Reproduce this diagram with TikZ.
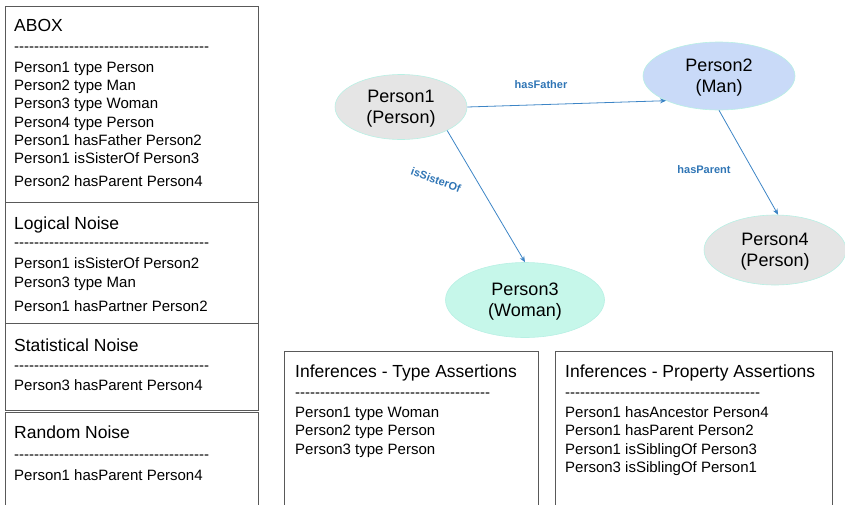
\documentclass[tikz,border=0pt]{standalone}
\usepackage{fontspec}
\setmainfont{Liberation Sans}[Ligatures=TeXOff]
\usetikzlibrary{
    arrows.meta,
    shapes.geometric
}

\definecolor{boxgray}{HTML}{595959}
\definecolor{rimcyan}{HTML}{B8F0E4}
\definecolor{persongray}{HTML}{E5E5E5}
\definecolor{manblue}{HTML}{C9DAF8}
\definecolor{womanmint}{HTML}{C6F7EA}
\definecolor{relblue}{HTML}{3D85C6}
\definecolor{labelblue}{HTML}{2F75B5}

\newcommand{\dashes}{\foreach \k in {1,...,39}{-}}

\begin{document}
\begin{tikzpicture}[x=1pt, y=-1pt,
    box/.style={draw=boxgray, line width=1pt},
    title/.style={anchor=base west, inner sep=0pt, font=\fontsize{17.5}{21}\selectfont},
    entry/.style={anchor=base west, inner sep=0pt, font=\fontsize{15}{18}\selectfont},
    person/.style={ellipse, draw=rimcyan, line width=0.6pt, align=center, inner sep=0pt,
        text depth=-1pt, font=\fontsize{18}{21}\selectfont},
    rel/.style={draw=relblue, line width=0.8pt, -{Stealth[length=6pt, width=5pt]}},
    rellabel/.style={text=labelblue, font=\bfseries\fontsize{11}{13}\selectfont}
]

\useasboundingbox (0,0) rectangle (845,504);
\clip (0,0) rectangle (845,504);

% Left column boxes
\draw[box] (5,6) rectangle (258,202);
\draw[box] (5,202) rectangle (258,323);
\draw[box] (5,323) rectangle (258,410);
\draw[box] (5,412) rectangle (258,510);

% ABOX
\node[title] (abox) at (14,31) {ABOX};
\node[entry] (aboxdash) at (14,51.5) {\dashes};
\node[entry] (abox1) at (14,72.4) {Person1 type Person};
\node[entry] (abox2) at (14,90.6) {Person2 type Man};
\node[entry] (abox3) at (14,108.8) {Person3 type Woman};
\node[entry] (abox4) at (14,127) {Person4 type Person};
\node[entry] (abox5) at (14,145.2) {Person1 hasFather Person2};
\node[entry] (abox6) at (14,163.4) {Person1 isSisterOf Person3};
\node[entry] (abox7) at (14,186.4) {Person2 hasParent Person4};

% Logical noise
\node[title] (logical) at (14,229) {Logical Noise};
\node[entry] (logicaldash) at (14,247.5) {\dashes};
\node[entry] (logical1) at (14,268.4) {Person1 isSisterOf Person2};
\node[entry] (logical2) at (14,287) {Person3 type Man};
\node[entry] (logical3) at (14,311) {Person1 hasPartner Person2};

% Statistical noise
\node[title] (statistical) at (14,351) {Statistical Noise};
\node[entry] (statisticaldash) at (14,370.5) {\dashes};
\node[entry] (statistical1) at (14,390.4) {Person3 hasParent Person4};

% Random noise
\node[title] (random) at (14,438) {Random Noise};
\node[entry] (randomdash) at (14,459.5) {\dashes};
\node[entry] (random1) at (14,480.4) {Person1 hasParent Person4};

% Inference boxes
\draw[box] (284,351) rectangle (538,510);
\draw[box] (555,351) rectangle (832,510);

\node[title] (types) at (295,377) {Inferences - Type Assertions};
\node[entry] (typesdash) at (295,397.5) {\dashes};
\node[entry] (types1) at (295,417.4) {Person1 type Woman};
\node[entry] (types2) at (295,435.9) {Person2 type Person};
\node[entry] (types3) at (295,454.4) {Person3 type Person};

\node[title] (props) at (565,377) {Inferences - Property Assertions};
\node[entry] (propsdash) at (565,397.5) {\dashes};
\node[entry] (props1) at (565,417.4) {Person1 hasAncestor Person4};
\node[entry] (props2) at (565,435.9) {Person1 hasParent Person2};
\node[entry] (props3) at (565,454.4) {Person1 isSiblingOf Person3};
\node[entry] (props4) at (565,472.9) {Person3 isSiblingOf Person1};

% Individuals
\node[person, fill=persongray, minimum width=132pt, minimum height=65pt] (p1) at (401,107) {Person1\\(Person)};
\node[person, fill=manblue, minimum width=152pt, minimum height=68pt] (p2) at (719,76) {Person2\\(Man)};
\node[person, fill=womanmint, minimum width=159pt, minimum height=75pt] (p3) at (525,300) {Person3\\(Woman)};
\node[person, fill=persongray, minimum width=142pt, minimum height=70pt] (p4) at (775,250) {Person4\\(Person)};

% Relations
\draw[rel] (p1.east) -- (p2.205);
\draw[rel] (p1.-27) -- (p3.north);
\draw[rel] (p2.south) -- (p4.85);

\node[rellabel] (hasfather) at (541,85) {hasFather};
\node[rellabel, rotate=-20] (issisterof) at (436,180) {isSisterOf};
\node[rellabel] (hasparent) at (704,170) {hasParent};

\end{tikzpicture}
\end{document}
